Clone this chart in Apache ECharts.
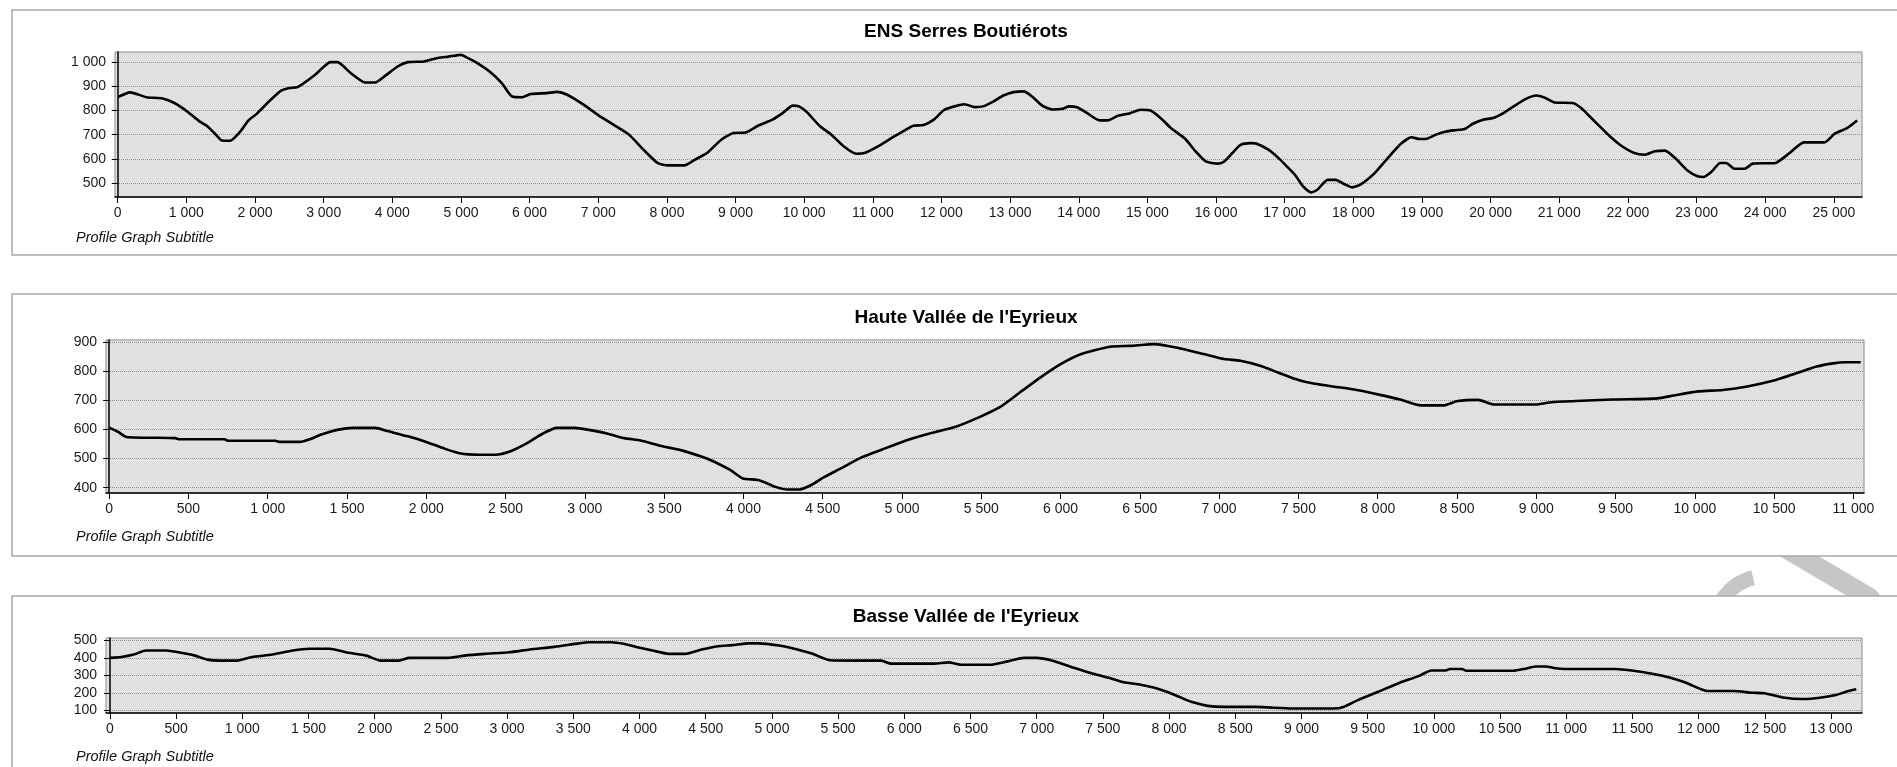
<!DOCTYPE html>
<html><head><meta charset="utf-8">
<script src="https://cdn.jsdelivr.net/npm/echarts@6/dist/echarts.min.js"></script>
<style>html,body{margin:0;padding:0;background:#fff}#c{width:1897px;height:767px}</style>
</head><body><div id="c"></div>
<script>
const titles = ["ENS Serres Boutiérots", "Haute Vallée de l'Eyrieux", "Basse Vallée de l'Eyrieux"];
const subtitle = "Profile Graph Subtitle";

// [distance (m), elevation (m)]
const profile1 = [[0,855],[180,875],[417,855],[655,850],[833,830],[1012,796],[1190,755],[1310,734],[1429,700],[1518,676],[1637,675],[1786,713],[1905,759],[2024,786],[2202,837],[2381,882],[2500,893],[2619,897],[2857,944],[3006,982],[3095,1000],[3202,1000],[3393,955],[3601,916],[3750,916],[3899,944],[4077,982],[4226,1000],[4464,1003],[4673,1018],[4821,1023],[5000,1030],[5060,1023],[5238,996],[5417,961],[5595,913],[5744,858],[5893,855],[6012,868],[6250,872],[6399,877],[6548,865],[6786,824],[6994,782],[7303,727],[7452,699],[7661,637],[7869,582],[8018,573],[8256,573],[8405,596],[8584,624],[8792,679],[8971,707],[9149,709],[9328,737],[9537,762],[9686,789],[9834,820],[9924,817],[10043,792],[10222,737],[10400,699],[10579,651],[10758,621],[10877,624],[11115,658],[11294,690],[11472,719],[11591,737],[11740,740],[11889,762],[12038,802],[12187,817],[12336,826],[12485,814],[12604,817],[12753,837],[12902,862],[13051,876],[13200,879],[13319,858],[13468,820],[13617,804],[13765,807],[13855,817],[13974,813],[14123,789],[14302,759],[14421,759],[14570,778],[14749,789],[14897,803],[15046,800],[15195,768],[15344,727],[15552,682],[15701,631],[15850,589],[16030,580],[16119,589],[16238,624],[16357,658],[16506,665],[16583,663],[16762,638],[16911,603],[17030,569],[17149,534],[17268,486],[17387,461],[17476,472],[17625,513],[17744,513],[17864,496],[17983,482],[18102,493],[18310,541],[18489,599],[18697,663],[18846,689],[18965,682],[19055,682],[19204,700],[19353,713],[19472,718],[19621,723],[19740,745],[19889,762],[20038,769],[20186,789],[20335,817],[20514,848],[20663,862],[20782,854],[20931,833],[21199,831],[21318,810],[21467,769],[21616,727],[21765,686],[21914,652],[22092,624],[22241,617],[22391,631],[22539,634],[22688,603],[22867,552],[23015,528],[23105,525],[23224,548],[23343,583],[23432,583],[23551,559],[23700,559],[23819,580],[24147,583],[24356,624],[24564,668],[24862,668],[25012,704],[25190,727],[25339,759]];

const profile2 = [[0,606],[57,591],[108,574],[417,570],[443,566],[726,566],[751,561],[1047,561],[1073,557],[1202,557],[1266,566],[1343,583],[1446,599],[1536,605],[1678,605],[1755,594],[1884,576],[2000,557],[2115,534],[2218,517],[2321,513],[2437,513],[2527,524],[2630,551],[2733,585],[2823,605],[2939,605],[3016,599],[3145,585],[3248,570],[3353,562],[3482,543],[3611,528],[3739,506],[3816,489],[3919,460],[3996,432],[4099,426],[4202,403],[4279,394],[4356,394],[4434,411],[4511,437],[4614,466],[4742,503],[4871,530],[5025,562],[5180,587],[5334,608],[5488,642],[5617,676],[5745,727],[5874,778],[6003,824],[6131,858],[6311,883],[6440,886],[6594,892],[6748,878],[6903,858],[7031,841],[7134,835],[7258,818],[7371,795],[7500,769],[7603,756],[7757,744],[7886,733],[8015,718],[8143,702],[8272,682],[8414,682],[8504,697],[8632,701],[8735,685],[8993,685],[9096,693],[9250,697],[9481,702],[9765,706],[9867,716],[10022,730],[10176,735],[10331,747],[10511,769],[10639,792],[10768,815],[10871,826],[10948,830],[11046,830]];

const profile3 = [[0,400],[86,405],[179,419],[271,442],[425,442],[518,432],[641,413],[734,390],[826,384],[950,384],[1073,405],[1227,419],[1381,442],[1505,452],[1659,452],[1782,432],[1936,413],[2044,384],[2183,384],[2260,400],[2553,400],[2677,413],[2831,423],[3016,432],[3170,448],[3355,463],[3540,483],[3617,490],[3787,490],[3879,481],[3975,463],[4099,442],[4222,423],[4345,423],[4469,448],[4592,467],[4700,473],[4823,483],[4900,483],[5054,471],[5147,457],[5301,425],[5440,386],[5640,384],[5825,384],[5902,367],[6226,367],[6334,374],[6426,361],[6657,361],[6781,380],[6904,400],[6996,400],[7120,384],[7274,345],[7428,309],[7551,284],[7659,260],[7767,249],[7890,229],[7983,206],[8076,177],[8168,148],[8292,125],[8415,119],[8654,119],[8932,110],[9241,110],[9318,119],[9426,158],[9580,206],[9735,255],[9889,297],[9981,328],[10090,328],[10120,336],[10213,336],[10244,326],[10599,326],[10691,338],[10769,351],[10846,351],[10907,342],[11000,336],[11370,336],[11509,326],[11648,309],[11772,289],[11895,260],[12019,220],[12065,210],[12265,210],[12404,200],[12497,197],[12636,173],[12790,164],[12929,173],[13037,187],[13114,206],[13191,220]];

// axis extents and tick steps
const xRanges = [[-40, 25410, 1000], [-20, 11067, 500], [-30, 13234, 500]];
const yRanges = [[442, 1042, 100], [382, 906, 100], [84, 514, 100]];

const FONT = '"Liberation Sans", Arial, sans-serif';
const fmt = v => String(v).replace(/\B(?=(\d{3})+(?!\d))/g, ' ');
const stepsIn = (a, b, s) => { const out = []; for (let v = Math.ceil(a / s) * s; v <= b; v += s) out.push(v); return out; };

const layouts = [
  {left: 115, top: 52, width: 1747, height: 145},
  {left: 106, top: 340, width: 1758, height: 153},
  {left: 106, top: 638, width: 1756, height: 75}
];
const panels = [[12, 10, 245], [12, 294, 262], [12, 596, 200]];
const titleY = [32, 318, 617];
const subY = [238, 537, 757];
const profiles = [profile1, profile2, profile3];

const grids = [], xAxes = [], yAxes = [], series = [];
for (let i = 0; i < 3; i++) {
  grids.push(Object.assign({show: true, backgroundColor: '#e0e0e0', borderColor: '#8c8c8c', borderWidth: 1}, layouts[i]));
  const [x0, x1, xs] = xRanges[i];
  const [y0, y1, ys] = yRanges[i];
  const xt = stepsIn(x0, x1, xs), yt = stepsIn(y0, y1, ys);
  xAxes.push({
    gridIndex: i, type: 'value', min: x0, max: x1, splitNumber: Math.round((x1 - x0) / xs),
    axisLine: {show: true, onZero: false, lineStyle: {color: '#000', width: 1.5}},
    axisTick: {show: true, length: 6, customValues: xt, lineStyle: {color: '#000'}},
    axisLabel: {interval: 0, margin: 9, color: '#1a1a1a', fontSize: 14, fontFamily: FONT, customValues: xt,
      formatter: v => (v % xs === 0 ? fmt(v) : '')},
    splitLine: {show: false}
  });
  yAxes.push({
    gridIndex: i, type: 'value', min: y0, max: y1, splitNumber: Math.round((y1 - y0) / ys),
    axisLine: {show: true, lineStyle: {color: '#000', width: 1.5}},
    axisTick: {show: true, length: 6, customValues: yt, lineStyle: {color: '#000'}},
    axisLabel: {interval: 0, margin: 9, color: '#1a1a1a', fontSize: 14, fontFamily: FONT, customValues: yt,
      formatter: v => (v % ys === 0 ? fmt(v) : '')},
    splitLine: {show: true, lineStyle: {type: 'dotted', color: '#8f8f8f', width: 1}}
  });
  series.push({
    type: 'line', xAxisIndex: i, yAxisIndex: i, data: profiles[i],
    showSymbol: false, smooth: 0.2, animation: false,
    lineStyle: {color: '#000', width: 2.6}, z: 5
  });
}

const graphic = [];
// faint watermark fragment visible between panels
graphic.push({type: 'arc', z: -5, shape: {cx: 1766, cy: 628, r: 52, startAngle: Math.PI, endAngle: Math.PI * 1.42},
  style: {stroke: '#c6c6c6', lineWidth: 15, fill: null}});
graphic.push({type: 'line', z: -5, shape: {x1: 1772, y1: 540, x2: 1870, y2: 598},
  style: {stroke: '#c6c6c6', lineWidth: 20, lineCap: 'round'}});
for (let i = 0; i < 3; i++) {
  const [px, py, ph] = panels[i];
  graphic.push({type: 'rect', z: -1, shape: {x: px, y: py, width: 1960, height: ph},
    style: {fill: '#fff', stroke: '#a8a8a8', lineWidth: 1.5}});
  graphic.push({type: 'text', z: 10, x: 966, y: titleY[i],
    style: {text: titles[i], fill: '#000', font: 'bold 19px ' + FONT, align: 'center', verticalAlign: 'middle'}});
  graphic.push({type: 'text', z: 10, x: 76, y: subY[i],
    style: {text: subtitle, fill: '#111', font: 'italic 14.5px ' + FONT, align: 'left', verticalAlign: 'middle'}});
}

const chart = echarts.init(document.getElementById('c'), null, {renderer: 'canvas'});
chart.setOption({
  animation: false,
  backgroundColor: '#fff',
  grid: grids, xAxis: xAxes, yAxis: yAxes, series: series, graphic: graphic
});
</script></body></html>
